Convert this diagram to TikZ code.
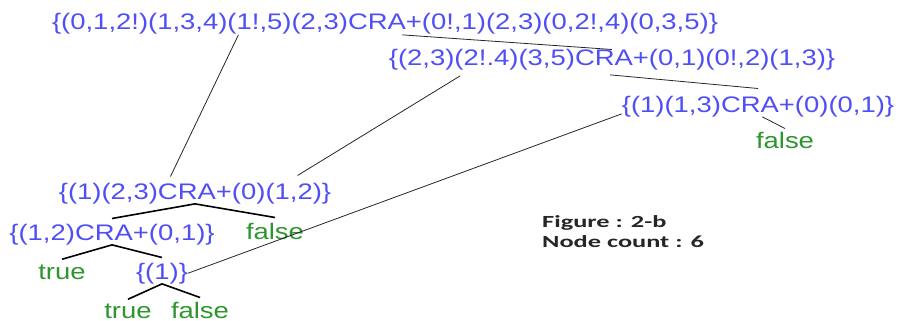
\documentclass[tikz,border=0pt]{standalone}
\usepackage{fontspec}
\setmainfont{Liberation Sans}[FakeStretch=1.22]
\newfontfamily\notefont{Carlito}[FakeStretch=1.55]
\usetikzlibrary{calc}
\definecolor{crablue}{HTML}{4F4FF5}
\definecolor{leafgreen}{HTML}{2E962E}
\definecolor{notegray}{HTML}{262626}
\tikzset{
  cra/.style={inner sep=0pt, anchor=base, text=crablue, font=\fontsize{22.5}{27}\selectfont},
  leaf/.style={inner sep=0pt, anchor=base, text=leafgreen, font=\fontsize{22.5}{27}\selectfont},
  link/.style={draw=black!85, line width=0.8pt},
  branch/.style={draw=black, line width=1.6pt},
}

\begin{document}
\begin{tikzpicture}[x=1pt, y=-1pt]
  \useasboundingbox (0,0) rectangle (899,321);

  % expressions
  \node[cra] (root) at (385,30) {\{(0,1,2!)(1,3,4)(1!,5)(2,3)CRA+(0!,1)(2,3)(0,2!,4)(0,3,5)\}};
  \node[cra] (right) at (612,66) {\{(2,3)(2!.4)(3,5)CRA+(0,1)(0!,2)(1,3)\}};
  \node[cra] (rightsub) at (758,112) {\{(1)(1,3)CRA+(0)(0,1)\}};
  \node[leaf] (rfalse) at (785,148) {false};
  \node[cra] (mid) at (195,199) {\{(1)(2,3)CRA+(0)(1,2)\}};
  \node[cra] (midleft) at (112,240) {\{(1,2)CRA+(0,1)\}};
  \node[leaf] (midfalse) at (275,239) {false};
  \node[leaf] (ltrue) at (62,279) {true};
  \node[cra] (unit) at (162,279) {\{(1)\}};
  \node[leaf] (utrue) at (128,318) {true};
  \node[leaf] (ufalse) at (200,318) {false};

  \node[anchor=north west, align=left, inner sep=0pt, text=notegray,
        font=\notefont\bfseries\fontsize{17}{20}\selectfont] (note) at (542,215)
        {Figure : 2-b\\Node count : 6};

  % long links
  \draw[link] ($(root.south west)!0.28!(root.south east)$) -- ($(mid.north west)!0.41!(mid.north east)+(0,-6)$);
  \draw[link] ($(root.south west)!0.526!(root.south east)$) -- (right.north);
  \draw[link] ($(right.south west)!0.16!(right.south east)+(0,5)$) -- ($(mid.north west)!0.876!(mid.north east)+(0,-7)$);
  \draw[link] ($(right.south west)!0.496!(right.south east)+(0,4)$) -- ($(rightsub.north)+(0,-7)$);
  \draw[link] ($(rightsub.south west)+(0,-3)$) -- (unit.east);
  \draw[link] ($(rightsub.south west)!0.516!(rightsub.south east)$) -- ($(rfalse.north)+(0,-3)$);

  % tree branches
  \draw[branch] ([yshift=5pt]midleft.north) -- (mid.south) -- ([yshift=5pt]midfalse.north);
  \draw[branch] ([yshift=5pt]ltrue.north) -- (midleft.south) -- ([yshift=5pt]unit.north);
  \draw[branch] ([yshift=4pt]utrue.north) -- (unit.south) -- ([yshift=4pt]ufalse.north);
\end{tikzpicture}
\end{document}
